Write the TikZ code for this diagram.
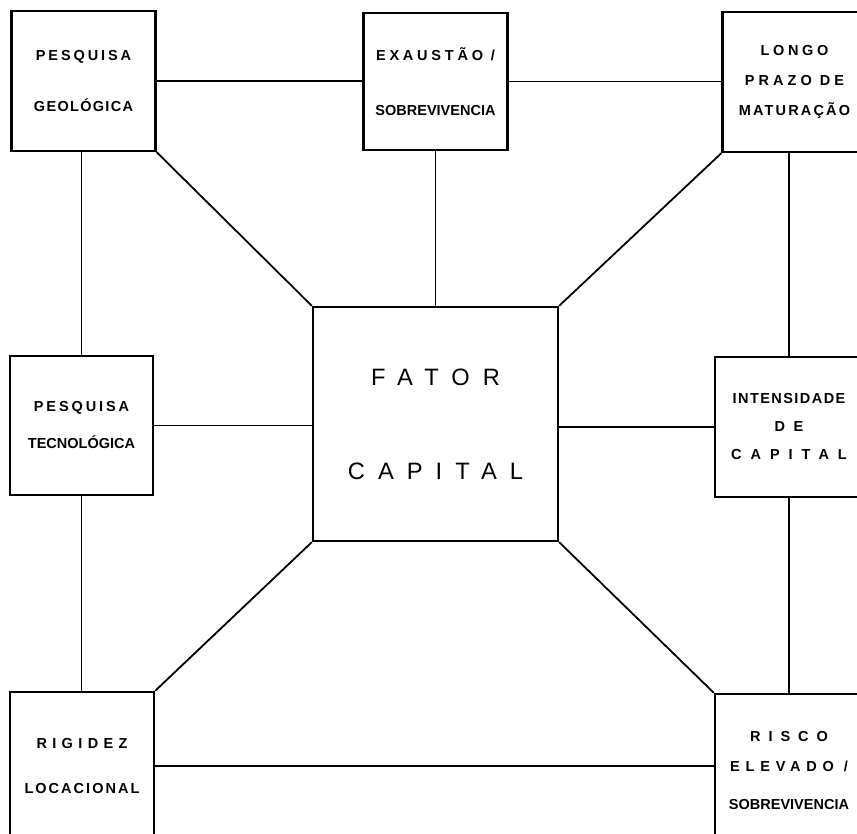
\documentclass[tikz,border=0pt]{standalone}
\usepackage{fontspec}
\setmainfont{Liberation Sans}
\newcommand{\spacedtext}[2]{{\addfontfeature{LetterSpace=#1}#2}}
\tikzset{
  factor/.style={draw, line width=2.4pt, inner sep=0pt, align=center,
    font=\bfseries\fontsize{14.5}{17}\selectfont},
  corner/.style={factor, minimum width=144pt, minimum height=140pt},
  link/.style={line width=1.8pt}
}
\begin{document}
\begin{tikzpicture}[x=1pt, y=-1pt]
    \useasboundingbox (0,0) rectangle (857,834);
    \clip (0,0) rectangle (857,834);

    % central box
    \node[factor, minimum width=245pt, minimum height=234pt,
      font=\fontsize{23.7}{28}\selectfont] (FC) at (435.5,424)
      {\spacedtext{55}{FATOR}\\[66pt]\spacedtext{55}{CAPITAL}};

    % top row
    \node[corner] (PG) at (83.5,81)
      {\spacedtext{20}{PESQUISA}\\[34pt]\spacedtext{9}{GEOLÓGICA}};
    \node[corner, minimum height=137pt] (EX) at (435.5,81.5)
      {\spacedtext{26}{EXAUSTÃO /}\\[38pt]SOBREVIVENCIA};
    \node[corner] (LP) at (794.5,82)
      {\spacedtext{25}{LONGO}\\[13pt]\spacedtext{28}{PRAZO DE}\\[13pt]\spacedtext{15}{MATURAÇÃO}};

    % middle row
    \node[corner, minimum width=143pt, minimum height=139pt] (PT) at (81.5,425.5)
      {\spacedtext{20}{PESQUISA}\\[20pt]TECNOLÓGICA};
    \node[corner, minimum width=148pt] (IC) at (789,427)
      {\spacedtext{10}{INTENSIDADE}\\[11pt]\spacedtext{30}{D E}\\[11pt]\spacedtext{62}{CAPITAL}};

    % bottom row
    \node[corner, minimum height=148pt] (RL) at (82,766)
      {\spacedtext{37}{RIGIDEZ}\\[28pt]\spacedtext{14}{LOCACIONAL}};
    \node[corner, minimum width=148pt, minimum height=154pt] (RE) at (789,771)
      {\spacedtext{55}{RISCO}\\[13pt]\spacedtext{40}{ELEVADO /}\\[21pt]SOBREVIVENCIA};

    % outer ring
    \draw[link] (PG.east) -- (PG.east -| EX.west);
    \draw[link] (EX.east) -- (EX.east -| LP.west);
    \draw[link] (PG.south -| PT.north) -- (PT.north);
    \draw[link] (PT.south) -- (PT.south |- RL.north);
    \draw[link] (LP.south -| IC.north) -- (IC.north);
    \draw[link] (IC.south) -- (IC.south |- RE.north);
    \draw[link] (RL.east) -- (RL.east -| RE.west);

    % spokes
    \draw[link] (EX.south) -- (FC.north);
    \draw[link] (PT.east) -- (PT.east -| FC.west);
    \draw[link] (IC.west -| FC.east) -- (IC.west);
    \draw[link] (PG.south east) -- (FC.north west);
    \draw[link] (LP.south west) -- (FC.north east);
    \draw[link] (FC.south west) -- (RL.north east);
    \draw[link] (FC.south east) -- (RE.north west);
\end{tikzpicture}
\end{document}
